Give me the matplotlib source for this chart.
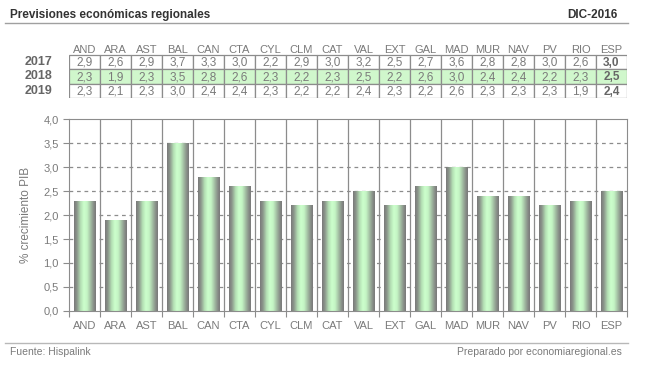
import numpy as np
import matplotlib.pyplot as plt
from matplotlib.colors import LinearSegmentedColormap
from matplotlib.patches import Rectangle

regiones = ['AND', 'ARA', 'AST', 'BAL', 'CAN', 'CTA', 'CYL', 'CLM', 'CAT',
            'VAL', 'EXT', 'GAL', 'MAD', 'MUR', 'NAV', 'PV', 'RIO', 'ESP']
anios = ['2017', '2018', '2019']
p2017 = [2.9, 2.6, 2.9, 3.7, 3.3, 3.0, 2.2, 2.9, 3.0, 3.2, 2.5, 2.7, 3.6, 2.8, 2.8, 3.0, 2.6, 3.0]
p2018 = [2.3, 1.9, 2.3, 3.5, 2.8, 2.6, 2.3, 2.2, 2.3, 2.5, 2.2, 2.6, 3.0, 2.4, 2.4, 2.2, 2.3, 2.5]
p2019 = [2.3, 2.1, 2.3, 3.0, 2.4, 2.4, 2.3, 2.2, 2.2, 2.4, 2.3, 2.2, 2.6, 2.3, 2.3, 2.3, 1.9, 2.4]
filas = [p2017, p2018, p2019]

plt.rcParams['font.family'] = ['Liberation Sans', 'DejaVu Sans']
gris = '#8c8c8c'
texto = '#7a7a7a'

W, H = 650, 365
fig = plt.figure(figsize=(6.5, 3.65), dpi=100)

def caja(x0, y0, x1, y1):
    # pixeles -> coordenadas de figura
    return [x0 / W, 1 - y1 / H, (x1 - x0) / W, (y1 - y0) / H]

# cabecera y pie
fig.text(10 / W, 1 - 15 / H, 'Previsiones económicas regionales', fontsize=8.5,
         fontweight='bold', color='#333333', va='center')
fig.text(617 / W, 1 - 15 / H, 'DIC-2016', fontsize=8.5, fontweight='bold',
         color='#333333', va='center', ha='right')
fig.add_artist(plt.Line2D([5 / W, 628 / W], [1 - 22.5 / H] * 2, color='#a0a0a0', lw=1))
fig.add_artist(plt.Line2D([5 / W, 628 / W], [1 - 342.5 / H] * 2, color='#b8b8b8', lw=1))
fig.text(10 / W, 1 - 352 / H, 'Fuente: Hispalink', fontsize=7.5, color=texto, va='center')
fig.text(622 / W, 1 - 352 / H, 'Preparado por economiaregional.es', fontsize=7.5,
         color=texto, va='center', ha='right')

# tabla
n = len(regiones)
tab = fig.add_axes(caja(69, 40.5, 627, 98))
tab.set_xlim(0, n)
tab.set_ylim(3, -1)
tab.axis('off')
for j, r in enumerate(regiones):
    tab.text(j + 0.5, -0.35, r, ha='center', va='center', fontsize=8, color=texto)
for i, (a, fila) in enumerate(zip(anios, filas)):
    tab.text(-0.55, i + 0.5, a, ha='right', va='center', fontsize=9,
             fontweight='bold', color='#666666')
    for j, v in enumerate(fila):
        fc = '#d0f7cc' if i == 1 else 'white'
        tab.add_patch(Rectangle((j, i), 1, 1, fc=fc, ec=gris, lw=0.9))
        tab.text(j + 0.5, i + 0.55, f'{v:.1f}'.replace('.', ','), ha='center',
                 va='center', fontsize=8.5,
                 color='#666666' if j == n - 1 else texto,
                 fontweight='bold' if j == n - 1 else 'normal')

# grafico
ax = fig.add_axes(caja(69, 119, 627, 311))
x = np.arange(n) + 0.5
ax.set_xlim(0, n)
ax.set_ylim(0, 4)
for s in ax.spines.values():
    s.set_color(gris)
ax.set_yticks(np.arange(0, 4.01, 0.5))
ax.set_yticklabels([f'{t:.1f}'.replace('.', ',') for t in np.arange(0, 4.01, 0.5)])
ax.set_xticks(np.arange(n + 1))
ax.set_xticklabels([])
ax.set_xticks(x, minor=True)
ax.set_xticklabels(regiones, minor=True)
ax.tick_params(axis='both', which='major', colors=gris, labelcolor=texto,
               labelsize=8, length=4)
ax.tick_params(axis='x', which='minor', length=0, labelcolor=texto,
               labelsize=8, pad=7)
for t in np.arange(0.5, 4, 0.5):
    ax.axhline(t, color=gris, lw=0.9, ls=(0, (3, 3)), zorder=0)
for k in range(1, n):
    ax.axvline(k, color=gris, lw=0.9, zorder=0)
ax.set_ylabel('% crecimiento PIB', fontsize=8.5, color=texto, labelpad=8)

degradado = LinearSegmentedColormap.from_list('barra', [
    (0.0, '#7a7a7a'), (0.12, '#8a948a'), (0.3, '#b4e0b4'), (0.45, '#ccffcc'),
    (0.6, '#c4f4c4'), (0.78, '#a0b8a0'), (0.92, '#858a85'), (1.0, '#7a7a7a')])
grad = np.linspace(0, 1, 64).reshape(1, -1)
barras = ax.bar(x, p2018, width=0.68, color='none', zorder=2)
for b in barras:
    x0, y0 = b.get_x(), b.get_y()
    im = ax.imshow(grad, cmap=degradado, aspect='auto', zorder=2,
                   extent=(x0, x0 + b.get_width(), y0, y0 + b.get_height()))
    im.set_clip_path(b)
ax.set_xlim(0, n)
ax.set_ylim(0, 4)

fig.savefig('out.png', dpi=100)
